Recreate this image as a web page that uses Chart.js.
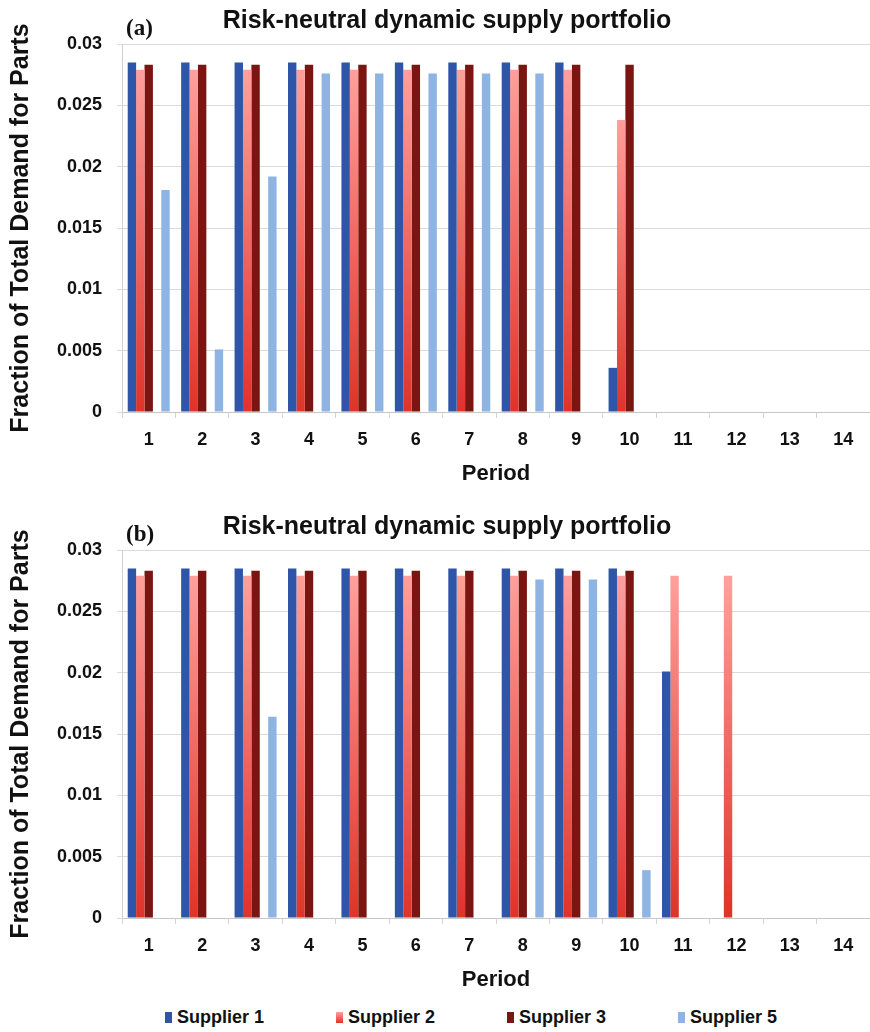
<!DOCTYPE html>
<html>
<head>
<meta charset="utf-8">
<title>Risk-neutral dynamic supply portfolio</title>
<script src="https://cdn.jsdelivr.net/npm/chart.js@4.4.1/dist/chart.umd.min.js"></script>
<style>
  body { margin: 0; background: #fff; }
  canvas { display: block; }
  #legend {
    display: flex;
    align-items: center;
    height: 42px;
    padding-left: 165px;
    font: bold 18px 'Liberation Sans', Arial, sans-serif;
    color: #111;
  }
  #legend .item { width: 171px; display: flex; align-items: center; }
  #legend .swatch { width: 7px; height: 11px; margin-right: 5px; }
</style>
</head>
<body>
<canvas id="chartA" width="870" height="506"></canvas>
<canvas id="chartB" width="870" height="490"></canvas>
<div id="legend"></div>
<script>
const periods = ['1', '2', '3', '4', '5', '6', '7', '8', '9', '10', '11', '12', '13', '14'];
const suppliers = ['Supplier 1', 'Supplier 2', 'Supplier 3', 'Supplier 4', 'Supplier 5'];
const yTickStep = 0.005;
const yMax = 0.03;

// panel (a)
const supplier1A = [0.0285, 0.0285, 0.0285, 0.0285, 0.0285, 0.0285, 0.0285, 0.0285, 0.0285, 0.0036, 0, 0, 0, 0];
const supplier2A = [0.0279, 0.0279, 0.0279, 0.0279, 0.0279, 0.0279, 0.0279, 0.0279, 0.0279, 0.0238, 0, 0, 0, 0];
const supplier3A = [0.0283, 0.0283, 0.0283, 0.0283, 0.0283, 0.0283, 0.0283, 0.0283, 0.0283, 0.0283, 0, 0, 0, 0];
const supplier4A = [0, 0, 0, 0, 0, 0, 0, 0, 0, 0, 0, 0, 0, 0];
const supplier5A = [0.0181, 0.0051, 0.0192, 0.0276, 0.0276, 0.0276, 0.0276, 0.0276, 0, 0, 0, 0, 0, 0];

// panel (b)
const supplier1B = [0.0285, 0.0285, 0.0285, 0.0285, 0.0285, 0.0285, 0.0285, 0.0285, 0.0285, 0.0285, 0.0201, 0, 0, 0];
const supplier2B = [0.0279, 0.0279, 0.0279, 0.0279, 0.0279, 0.0279, 0.0279, 0.0279, 0.0279, 0.0279, 0.0279, 0.0279, 0, 0];
const supplier3B = [0.0283, 0.0283, 0.0283, 0.0283, 0.0283, 0.0283, 0.0283, 0.0283, 0.0283, 0.0283, 0, 0, 0, 0];
const supplier4B = [0, 0, 0, 0, 0, 0, 0, 0, 0, 0, 0, 0, 0, 0];
const supplier5B = [0, 0, 0.0164, 0, 0, 0, 0, 0.0276, 0.0276, 0.0039, 0, 0, 0, 0];

const FONT = "'Liberation Sans', Arial, Helvetica, sans-serif";
const TEXT = '#111';
const supplierColors = ['#2f55a8', '#ef5d55', '#7a1512', '#ffffff', '#8db4e2'];

// Supplier 2 bars fade from pink at the top to red at the base
function supplier2Fill(context) {
    const chart = context.chart;
    const yScale = chart.scales && chart.scales.y;
    if (!chart.chartArea || !yScale || context.type !== 'data') return supplierColors[1];
    const top = yScale.getPixelForValue(context.raw);
    const base = yScale.getPixelForValue(0);
    if (!(base - top > 1)) return supplierColors[1];
    const g = chart.ctx.createLinearGradient(0, top, 0, base);
    g.addColorStop(0, '#ffa09c');
    g.addColorStop(1, '#df3329');
    return g;
}

const panelTitle = {
    id: 'panelTitle',
    afterDraw(chart, args, opts) {
        const { ctx, chartArea } = chart;
        ctx.save();
        ctx.fillStyle = TEXT;
        ctx.textBaseline = 'alphabetic';
        ctx.textAlign = 'left';
        ctx.font = "bold 23px 'Liberation Serif', 'Times New Roman', serif";
        ctx.fillText(opts.tag, chartArea.left + 4, chartArea.top - 9);
        ctx.textAlign = 'center';
        ctx.font = 'bold 25px ' + FONT;
        ctx.fillText(opts.text, opts.centerX, chartArea.top - 16);
        ctx.restore();
    }
};

function makeChart(canvasId, tag, series, bottomPad) {
    return new Chart(document.getElementById(canvasId), {
        type: 'bar',
        data: {
            labels: periods,
            datasets: suppliers.map((name, i) => ({
                label: name,
                data: series[i],
                backgroundColor: i === 1 ? supplier2Fill : supplierColors[i],
                borderWidth: 0,
                categoryPercentage: 0.786,
                barPercentage: 1
            }))
        },
        options: {
            responsive: false,
            animation: false,
            layout: { padding: { top: 44, right: 0, bottom: bottomPad, left: 0 } },
            plugins: {
                legend: { display: false },
                tooltip: { enabled: false },
                panelTitle: { tag: tag, text: 'Risk-neutral dynamic supply portfolio', centerX: 447 }
            },
            scales: {
                x: {
                    grid: { display: true, drawOnChartArea: false, drawTicks: true, tickLength: 6, color: '#d4d4d4', offset: true },
                    border: { color: '#c6c6c6' },
                    ticks: { color: TEXT, font: { family: FONT, size: 18, weight: 'bold' }, padding: 11, maxRotation: 0 },
                    title: {
                        display: true, text: 'Period', color: TEXT,
                        font: { family: FONT, size: 22, weight: 'bold' },
                        padding: { top: 0, bottom: 3 }
                    },
                    afterFit(scale) { scale.height = 78; }
                },
                y: {
                    min: 0,
                    max: yMax,
                    grid: { color: '#dadada', tickLength: 5 },
                    border: { color: '#d0d0d0' },
                    ticks: {
                        stepSize: yTickStep,
                        padding: 15,
                        color: TEXT,
                        font: { family: FONT, size: 18, weight: 'bold' },
                        callback: v => String(+v.toFixed(3))
                    },
                    title: {
                        display: true, text: 'Fraction of Total Demand for Parts', color: TEXT,
                        font: { family: FONT, size: 25, weight: 'bold' },
                        padding: { top: 6, bottom: 0 }
                    },
                    afterFit(scale) { scale.width = 122; }
                }
            }
        },
        plugins: [panelTitle]
    });
}

const chartA = makeChart('chartA', '(a)', [supplier1A, supplier2A, supplier3A, supplier4A, supplier5A], 16);
const chartB = makeChart('chartB', '(b)', [supplier1B, supplier2B, supplier3B, supplier4B, supplier5B], 0);

// shared legend under both panels; Supplier 4 has no bars and is left out
const legendEl = document.getElementById('legend');
chartB.data.datasets.forEach((ds, i) => {
    if (ds.label === 'Supplier 4') return;
    const item = document.createElement('div');
    item.className = 'item';
    const swatch = document.createElement('span');
    swatch.className = 'swatch';
    swatch.style.background = i === 1
        ? 'linear-gradient(#ffa09c, #df3329)'
        : supplierColors[i];
    item.appendChild(swatch);
    item.appendChild(document.createTextNode(ds.label));
    legendEl.appendChild(item);
});
</script>
</body>
</html>
